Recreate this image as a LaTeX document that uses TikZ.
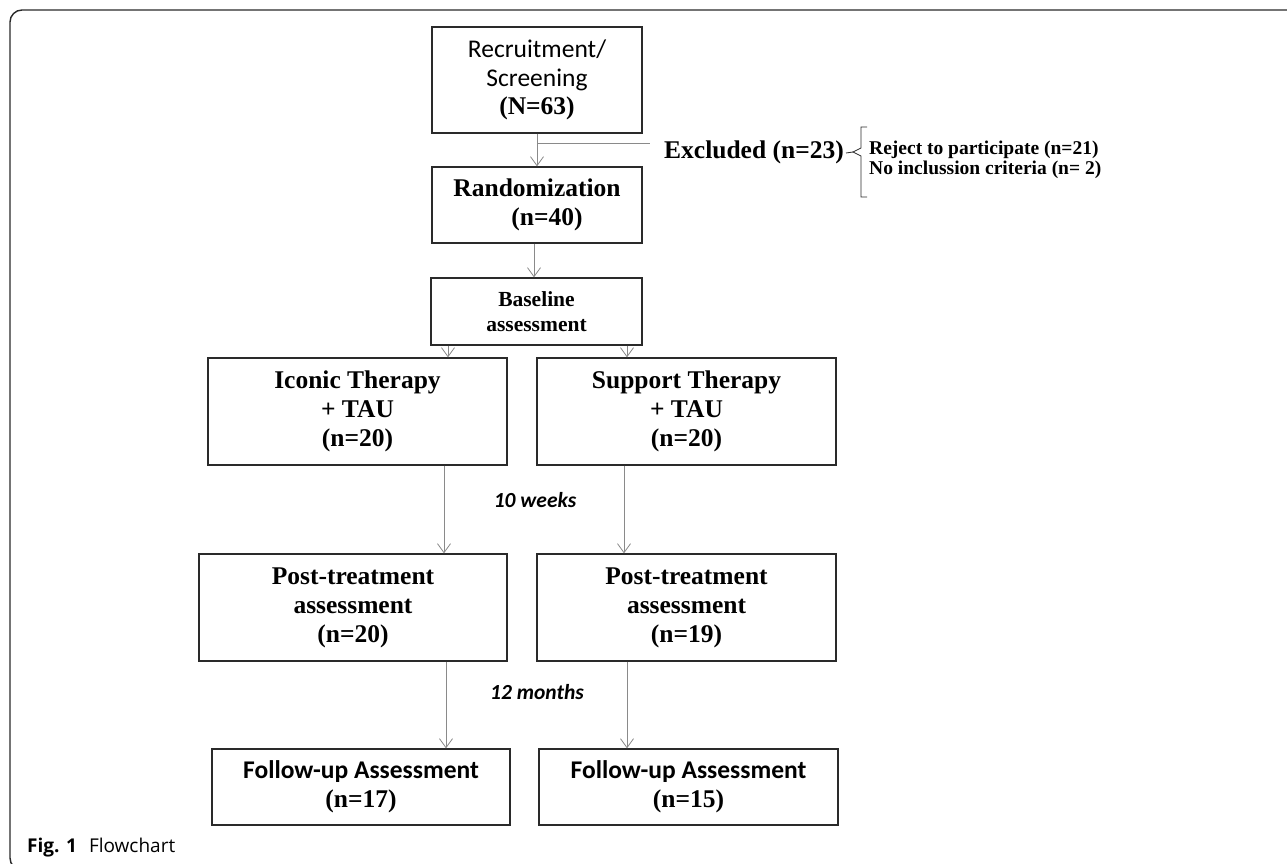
\documentclass[tikz,border=0pt]{standalone}
\usepackage{fontspec}
\setmainfont{Liberation Serif}
\newfontfamily\carl{Carlito}
\newfontfamily\capfont{Open Sans}
\usetikzlibrary{arrows.meta}
\definecolor{boxline}{HTML}{2A2A2A}
\definecolor{arrgray}{HTML}{8A8A8A}
\tikzset{
  box/.style={draw=boxline, line width=1.3pt, fill=white, align=center, inner sep=0pt,
    font=\bfseries\fontsize{25.5}{29}\selectfont},
  arr/.style={draw=arrgray, line width=0.9pt, -{Straight Barb[length=9pt,width=13pt,line width=0.8pt]}},
  plain/.style={draw=arrgray, line width=0.9pt},
  note/.style={font=\carl\bfseries\itshape\fontsize{21.5}{24}\selectfont, inner sep=0pt},
}
\begin{document}
\begin{tikzpicture}[x=1pt,y=-1pt]
\useasboundingbox (0,0) rectangle (1287,864);
% frame
\draw[boxline, line width=1.4pt, rounded corners=12pt] (40,870) -- (10,870) -- (10,10) -- (1300,10);

% boxes
\node[box, minimum width=210pt, minimum height=106pt] (rec) at (537,80)
  {\raisebox{-4pt}{\begin{tabular}{@{}c@{}}{\carl\mdseries\fontsize{25.5}{29}\selectfont Recruitment/}\\[0pt]{\carl\mdseries\fontsize{25.5}{29}\selectfont Screening}\\[-1pt](N=63)\end{tabular}}};
\node[box, minimum width=210pt, minimum height=76pt] (rand) at (537,205)
  {Randomization\\\hspace*{20pt}(n=40)};
\node[box, minimum width=211pt, minimum height=67pt, font=\bfseries\fontsize{21.5}{25}\selectfont] (base) at (536.5,311.5)
  {Baseline\\assessment};
\node[box, minimum width=299pt, minimum height=107pt] (icon) at (357.5,411.5)
  {\raisebox{-3pt}{\begin{tabular}{@{}c@{}}Iconic Therapy\\+ TAU\\(n=20)\end{tabular}}};
\node[box, minimum width=299pt, minimum height=107pt] (supp) at (686.5,411.5)
  {\raisebox{-3pt}{\begin{tabular}{@{}c@{}}Support Therapy\\+ TAU\\(n=20)\end{tabular}}};
\node[box, minimum width=308pt, minimum height=107pt] (postL) at (353,607.5)
  {Post-treatment\\assessment\\(n=20)};
\node[box, minimum width=299pt, minimum height=107pt] (postR) at (686.5,607.5)
  {Post-treatment\\assessment\\(n=19)};
\node[box, minimum width=298pt, minimum height=76pt] (folL) at (361,787)
  {{\carl\fontsize{25.5}{29}\selectfont Follow-up Assessment}\\(n=17)};
\node[box, minimum width=299pt, minimum height=76pt] (folR) at (688.5,787)
  {{\carl\fontsize{25.5}{29}\selectfont Follow-up Assessment}\\(n=15)};

% x positions of connectors
\coordinate (xa) at (537,0);
\coordinate (xb) at (534,0);
\coordinate (xc) at (448,0);
\coordinate (xd) at (627,0);
\coordinate (xe) at (444,0);
\coordinate (xf) at (624,0);
\coordinate (xg) at (446,0);
\coordinate (xh) at (627,0);

\draw[arr] (rec.south -| xa) -- (rand.north -| xa);
\coordinate (exs) at (537,143);
\coordinate (exe) at (650,143);
\draw[plain] (exs) -- (exe);
\draw[arr] (rand.south -| xb) -- (base.north -| xb);
\draw[arr] (base.south -| xc) -- (icon.north -| xc);
\draw[arr] (base.south -| xd) -- (supp.north -| xd);
\draw[arr] (icon.south -| xe) -- (postL.north -| xe);
\draw[arr] (supp.south -| xf) -- (postR.north -| xf);
\draw[arr] (postL.south -| xg) -- (folL.north -| xg);
\draw[arr] (postR.south -| xh) -- (folR.north -| xh);

% labels
\node[note] (w10) at (535,500) {10 weeks};
\node[note] (m12) at (537,692) {12 months};

% excluded
\node[anchor=west, inner sep=0pt, font=\bfseries\fontsize{25.5}{29}\selectfont] (excl) at (664,152) {Excluded (n=23)};
\draw[boxline, line width=0.8pt] (867,127) -- (861,127) -- (861,148) -- (853,152) -- (861,156) -- (861,197) -- (867,197);
\draw[boxline, line width=0.8pt] (846,153) -- (853,152);
\node[anchor=west, inner sep=0pt, align=left, font=\bfseries\fontsize{19.5}{20.5}\selectfont] (why) at (869,160)
  {Reject to participate (n=21)\\No inclussion criteria (n= 2)};

% caption
\node[anchor=west, inner sep=0pt, font=\capfont\fontsize{19}{22}\selectfont] (cap) at (27,848)
  {\textbf{Fig. 1}\hspace{12pt}Flowchart};
\end{tikzpicture}
\end{document}
